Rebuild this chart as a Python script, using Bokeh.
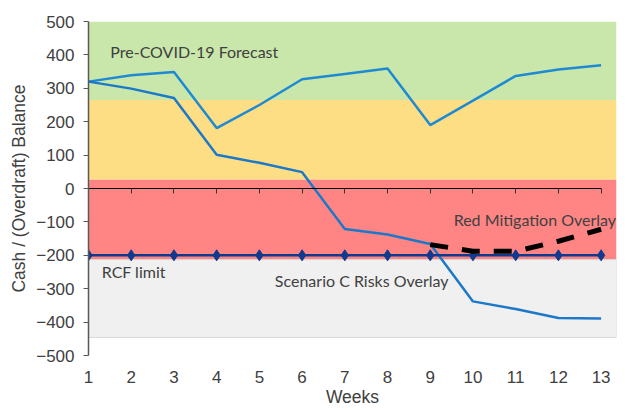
from bokeh.plotting import figure
from bokeh.models import LinearAxis, FixedTicker, Range1d, ColumnDataSource
from bokeh.core.properties import value
from bokeh.embed import file_html
from bokeh.resources import INLINE

# ---- data ----
weeks = [1, 2, 3, 4, 5, 6, 7, 8, 9, 10, 11, 12, 13]
pre_covid = [320, 339, 349, 181, 250, 327, 343, 359, 190, 263, 337, 356, 369]
scenario_c = [320, 299, 271, 101, 77, 49, -121, -138, -166, -338, -361, -388, -389]
mitigation_weeks = [9, 10, 11, 12, 13]
mitigation = [-168, -188, -188, -158, -122]
rcf_limit = [-200, -200, -200, -200, -200, -200, -200, -200, -200, -200, -200, -200, -200]

band_bottom = [265, 26, -213, -446]
band_top = [500, 265, 26, -213]
band_colors = ["#C9E7AB", "#FDDE84", "#FF8585", "#F0F0F0"]

y_ticks = [-500, -400, -300, -200, -100, 0, 100, 200, 300, 400, 500]

TXT = "#404040"

p = figure(frame_width=528, frame_height=334, output_backend="svg", toolbar_location=None,
           x_range=Range1d(1, 13.36), y_range=Range1d(-500, 500),
           min_border_left=88, min_border_right=8, min_border_top=21, min_border_bottom=54,
           x_axis_type=None, y_axis_type=None)
p.grid.visible = False
p.outline_line_color = None
p.background_fill_color = "white"

# bands
bsrc = ColumnDataSource(dict(bottom=band_bottom, top=band_top, color=band_colors,
                             left=[1] * 4, right=[13.36] * 4))
p.quad(left="left", right="right", bottom="bottom", top="top", fill_color="color",
       line_color=None, source=bsrc)
p.quad(left=[1], right=[13.36], bottom=[band_bottom[3]], top=[band_top[3]],
       fill_color=None, line_color="#D9D9D9", line_width=1)

# axes
yax = LinearAxis(ticker=FixedTicker(ticks=y_ticks))
yax.axis_line_color = "#595959"
yax.axis_line_width = 1.5
yax.major_tick_line_color = "#595959"
yax.major_tick_in = 0
yax.major_tick_out = 5
yax.minor_tick_line_color = None
yax.major_label_standoff = 9
yax.major_label_text_font = "Liberation Sans"
yax.major_label_text_font_size = "17px"
yax.major_label_text_color = TXT
yax.axis_label = "Cash / (Overdraft) Balance"
yax.axis_label_text_font = "Liberation Sans"
yax.axis_label_text_font_size = "17.5px"
yax.axis_label_text_font_style = "normal"
yax.axis_label_text_color = TXT
yax.axis_label_standoff = 4
p.add_layout(yax, "left")

xlab = LinearAxis(ticker=FixedTicker(ticks=weeks))
xlab.axis_line_color = None
xlab.major_tick_line_color = None
xlab.minor_tick_line_color = None
xlab.major_tick_out = 0
xlab.major_tick_in = 0
xlab.major_label_standoff = 15
xlab.major_label_text_font = "Liberation Sans"
xlab.major_label_text_font_size = "17px"
xlab.major_label_text_color = TXT
xlab.axis_label = "Weeks"
xlab.axis_label_text_font = "Liberation Sans"
xlab.axis_label_text_font_size = "17.5px"
xlab.axis_label_text_font_style = "normal"
xlab.axis_label_text_color = TXT
xlab.axis_label_standoff = 1
p.add_layout(xlab, "below")

x0 = LinearAxis(ticker=FixedTicker(ticks=weeks), fixed_location=0, bounds=(1, 13))
x0.axis_line_color = "black"
x0.axis_line_width = 1.2
x0.major_tick_line_color = "#333333"
x0.major_tick_out = 0
x0.major_tick_in = 5
x0.minor_tick_line_color = None
x0.major_label_text_font_size = "1px"
x0.major_label_text_color = None
x0.major_label_standoff = 0
p.add_layout(x0, "above")

# series
p.line(weeks, pre_covid, line_color="#1E8AD4", line_width=2.5)
p.line(weeks, scenario_c, line_color="#1C78C8", line_width=2.5)
p.line(weeks, rcf_limit, line_color="#103A8E", line_width=2.5)
p.scatter(weeks, rcf_limit, marker="diamond", size=11, fill_color="#103A8E", line_color="#103A8E")
p.line(mitigation_weeks, mitigation, line_color="black", line_width=5, line_dash="18 14")

# annotations
def label(x, y, t, align="left"):
    p.text(x=[x], y=[y], text=[t], text_font=value("Lato"), text_font_size="16px",
           text_color=TXT, text_align=align, text_baseline="middle")

label(1.51, 411, "Pre-COVID-19 Forecast")
label(13.35, -92, "Red Mitigation Overlay", "right")
label(1.31, -249, "RCF limit")
label(9.43, -274, "Scenario C Risks Overlay", "right")

open("out.html", "w").write(file_html(p, INLINE))
